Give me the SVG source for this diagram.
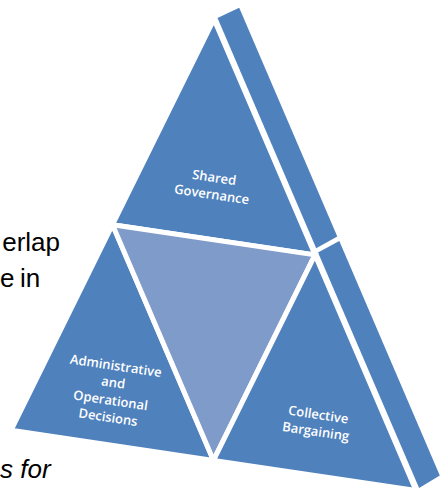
<svg xmlns="http://www.w3.org/2000/svg" width="448" height="489" viewBox="0 0 448 489">
<style>
.tri{fill:#4f81bd;stroke:#ffffff;stroke-width:5;stroke-linejoin:miter}
.mid{fill:#7f9bc9;stroke:#ffffff;stroke-width:5;stroke-linejoin:miter}
.side{fill:#4f81bd}
.lbl{font-family:"Open Sans","Noto Sans","Liberation Sans",sans-serif;font-size:13px;font-weight:600;fill:#ffffff;text-anchor:middle}
.body{font-family:"Liberation Sans",Arial,sans-serif;font-size:26px;fill:#000000}
</style>
<rect width="448" height="489" fill="#ffffff"/>
<g id="background-text">
<text class="body" x="60" y="251" text-anchor="end">erlap</text>
<text class="body" y="287"><tspan x="0">e</tspan><tspan x="20">in</tspan></text>
<text class="body" x="0" y="478" font-style="italic">s for</text>
</g>
<g id="side-upper">
<polygon class="side" points="217.5,18 239.2,7.7 337.3,236.5 316.2,248.2"/>
</g>
<g id="side-lower">
<polygon class="side" points="318,252.4 339.3,241.1 439.8,475.5 419.1,488.1"/>
</g>
<g id="shared-governance">
<polygon class="tri" points="214,19.2 112.5,224.75 315,254.85"/>
<text class="lbl" transform="translate(213,186) rotate(8.5)"><tspan x="0" y="-4">Shared</tspan><tspan x="0" y="13">Governance</tspan></text>
</g>
<g id="administrative">
<polygon class="tri" points="112.5,224.75 11,430.3 213.5,460.4"/>
<text class="lbl" transform="translate(112,391) rotate(8.5)"><tspan x="0" y="-21">Administrative</tspan><tspan x="0" y="-4">and</tspan><tspan x="0" y="14">Operational</tspan><tspan x="0" y="31">Decisions</tspan></text>
</g>
<g id="overlap">
<polygon class="mid" points="112.5,224.75 315,254.85 213.5,460.4"/>
</g>
<g id="collective-bargaining">
<polygon class="tri" points="315,254.85 213.5,460.4 416,490.5"/>
<text class="lbl" transform="translate(317,423) rotate(8.5)"><tspan x="0" y="-4">Collective</tspan><tspan x="0" y="13">Bargaining</tspan></text>
</g>
<g id="connectors"></g>
</svg>
